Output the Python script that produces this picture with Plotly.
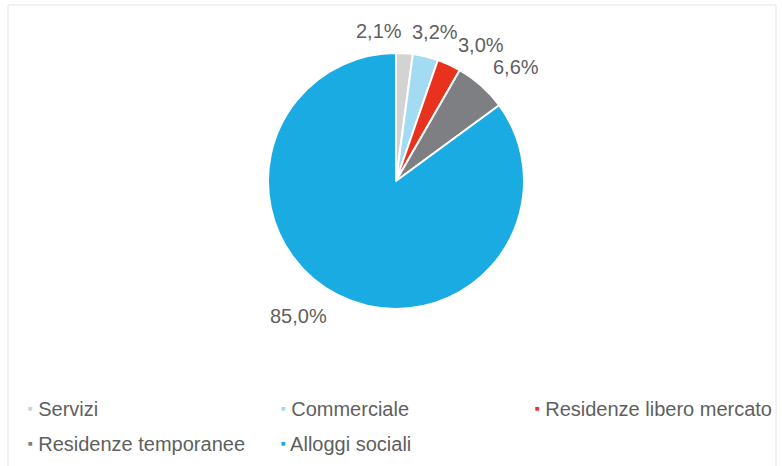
import math
import plotly.graph_objects as go

# Quote per destinazione d'uso
categorie = ["Servizi", "Commerciale", "Residenze libero mercato",
             "Residenze temporanee", "Alloggi sociali"]
quote = [2.1, 3.2, 3.0, 6.6, 85.0]
colori = ["#d3d3d3", "#a3dbf2", "#e8321e", "#7d7f83", "#1aabe3"]

# Small per-label nudges (px) so the crowded labels don't collide
label_dx = [-26, 7, 27, 27, -34]
label_dy = [10, 13, 9, 10, -10]

W, H = 782, 466
TEXT = "#5f5f5f"
FONT = "Liberation Sans, Arial, sans-serif"

# pie geometry in pixels (from top-left)
CX, CY, R = 396, 181, 128

fig = go.Figure()

fig.add_trace(go.Pie(
    labels=categorie,
    values=quote,
    marker=dict(colors=colori, line=dict(color="white", width=2)),
    sort=False,
    direction="clockwise",
    rotation=0,
    textinfo="none",
    showlegend=False,
    hoverinfo="label+value",
    domain=dict(x=[(CX - R) / W, (CX + R) / W],
                y=[1 - (CY + R) / H, 1 - (CY - R) / H]),
))

# Percentage labels just outside each slice, at its mid angle
annotations = []
totale = sum(quote)
cum = 0.0
for v, dx, dy in zip(quote, label_dx, label_dy):
    mid = (cum + v / 2) / totale * 2 * math.pi
    cum += v
    px = CX + (R + 12) * math.sin(mid)
    py = CY - (R + 12) * math.cos(mid)
    annotations.append(dict(
        x=px / W, y=1 - py / H, xref="paper", yref="paper",
        text=f"{v:.1f}%".replace(".", ","),
        showarrow=False, xanchor="center", yanchor="middle",
        xshift=dx, yshift=dy,
        font=dict(family=FONT, size=20, color=TEXT),
    ))

# Legend: one small legend per entry, laid out in a 3-column grid
col_x = [3, 256, 510]          # left edge of each column (px)
row_y = [408, 443]             # vertical centre of each row (px)
griglia = [(0, 0), (0, 1), (0, 2), (1, 0), (1, 1)]

layout_legends = {}
for i, (nome, col, (r, c)) in enumerate(zip(categorie, colori, griglia)):
    key = "legend" if i == 0 else f"legend{i + 1}"
    fig.add_trace(go.Scatter(
        x=[None], y=[None], mode="markers",
        marker=dict(size=1, color="rgba(0,0,0,0)"),
        name=(f'<span style="color:{col};font-size:11px"><sup>■</sup></span>'
              f' {nome}'),
        legend=key, hoverinfo="skip",
    ))
    layout_legends[key] = dict(
        x=col_x[c] / W, y=1 - row_y[r] / H,
        xanchor="left", yanchor="middle",
        orientation="h",
        indentation=-15,
        font=dict(family=FONT, size=20, color=TEXT),
        bgcolor="rgba(0,0,0,0)",
        itemclick=False,
    )

fig.update_layout(
    width=W, height=H,
    margin=dict(l=0, r=0, t=0, b=0),
    paper_bgcolor="white",
    plot_bgcolor="white",
    xaxis=dict(visible=False),
    yaxis=dict(visible=False),
    annotations=annotations,
    shapes=[dict(
        type="rect", xref="paper", yref="paper",
        x0=8 / W, x1=776 / W, y0=-0.05, y1=1 - 5 / H,
        line=dict(color="#e4e4e4", width=1), fillcolor="rgba(0,0,0,0)",
        layer="below",
    )],
    **layout_legends,
)

fig.write_html("out.html")
